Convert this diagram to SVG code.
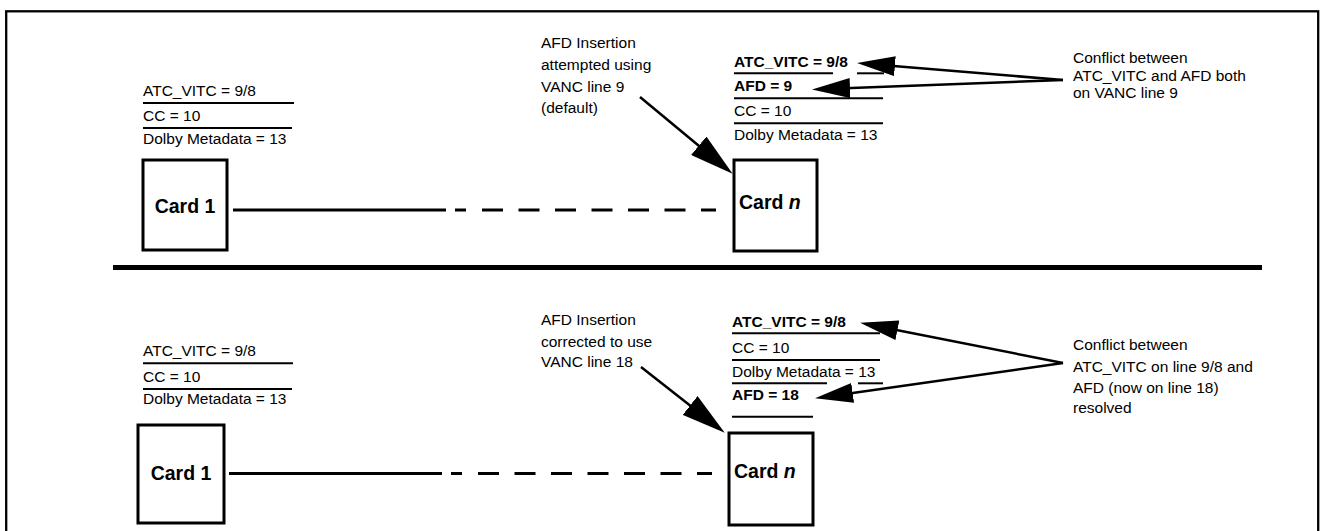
<svg xmlns="http://www.w3.org/2000/svg" width="1325" height="531" viewBox="0 0 1325 531">
<defs>
<style>
text{font-family:"Liberation Sans",Arial,sans-serif;font-size:15.5px;fill:#000}
.b{font-weight:bold}
.card{font-weight:bold;font-size:19.5px}
.ul{stroke:#000;stroke-width:2;fill:none}
.box{fill:#fff;stroke:#000;stroke-width:3}
.conn{stroke:#000;stroke-width:3;fill:none}
.arr{stroke:#000;stroke-width:2.5;fill:none;marker-end:url(#ah)}
.arrb{stroke:#000;stroke-width:2.5;fill:none;marker-end:url(#ahb)}
</style>
<marker id="ah" markerUnits="userSpaceOnUse" viewBox="0 0 38 20" refX="32" refY="10" markerWidth="38" markerHeight="20" orient="auto"><path d="M0,0 L38,10 L0,20 Z" fill="#000"/></marker>
<marker id="ahb" markerUnits="userSpaceOnUse" viewBox="0 0 44 24" refX="38" refY="12" markerWidth="44" markerHeight="24" orient="auto"><path d="M0,0 L44,12 L0,24 Z" fill="#000"/></marker>
</defs>
<rect x="6.2" y="11.3" width="1312" height="620" fill="none" stroke="#000" stroke-width="2.3"/>
<line x1="113" y1="267.5" x2="1262" y2="267.5" stroke="#000" stroke-width="5"/>

<g id="connectors">
<line class="conn" x1="233" y1="210" x2="446" y2="210"/>
<line class="conn" x1="455" y1="210" x2="716" y2="210" stroke-dasharray="11 16 21 15.5 21 15.5 21 15.5 21 15.5 21 15.5 21 15.5 21 16 12 100"/>
<line class="conn" x1="229" y1="473.5" x2="442" y2="473.5"/>
<line class="conn" x1="451" y1="473.5" x2="712" y2="473.5" stroke-dasharray="11 16 21 15.5 21 15.5 21 15.5 21 15.5 21 15.5 21 15.5 21 16 12 100"/>
<line class="arrb" x1="640" y1="97" x2="728" y2="170"/>
<line class="arrb" x1="641" y1="367" x2="720" y2="429"/>
<line class="arr" x1="1063" y1="80" x2="863" y2="63.5"/>
<line class="arr" x1="1063" y1="80" x2="818" y2="89.3"/>
<line class="arr" x1="1063" y1="363" x2="866" y2="324"/>
<line class="arr" x1="1063" y1="363" x2="821" y2="397.5"/>
</g>

<g id="top-left-labels">
<text x="143" y="96">ATC_VITC = 9/8</text>
<line class="ul" x1="143" y1="103" x2="294" y2="103"/>
<text x="143" y="121">CC = 10</text>
<line class="ul" x1="143" y1="128" x2="292" y2="128"/>
<text x="143" y="144">Dolby Metadata = 13</text>
</g>

<g id="top-card1">
<rect class="box" x="143" y="160" width="84" height="90"/>
<text class="card" x="185" y="213" text-anchor="middle">Card 1</text>
</g>

<g id="top-cardn">
<rect class="box" x="734" y="160" width="83" height="91"/>
<text class="card" x="739" y="209">Card <tspan font-style="italic">n</tspan></text>
</g>

<g id="top-right-labels">
<text class="b" x="734" y="66.5">ATC_VITC = 9/8</text>
<line class="ul" x1="734" y1="73.3" x2="833" y2="73.3"/>
<line class="ul" x1="857" y1="73.3" x2="884" y2="73.3"/>
<text class="b" x="734" y="90.5">AFD = 9</text>
<line class="ul" x1="734" y1="98.3" x2="883" y2="98.3"/>
<text x="734" y="116">CC = 10</text>
<line class="ul" x1="734" y1="123.3" x2="883" y2="123.3"/>
<text x="734" y="139.5">Dolby Metadata = 13</text>
</g>

<g id="top-note">
<text x="541" y="48">AFD Insertion</text>
<text x="541" y="70">attempted using</text>
<text x="541" y="92">VANC line 9</text>
<text x="541" y="113">(default)</text>
</g>

<g id="top-conflict">
<text x="1073" y="63">Conflict between</text>
<text x="1073" y="81">ATC_VITC and AFD both</text>
<text x="1073" y="98">on VANC line 9</text>
</g>

<g id="bottom-left-labels">
<text x="143" y="356">ATC_VITC = 9/8</text>
<line class="ul" x1="143" y1="363.3" x2="293" y2="363.3"/>
<text x="143" y="382">CC = 10</text>
<line class="ul" x1="143" y1="389" x2="292" y2="389"/>
<text x="143" y="404">Dolby Metadata = 13</text>
</g>

<g id="bottom-card1">
<rect class="box" x="138" y="425" width="86" height="98"/>
<text class="card" x="181" y="480" text-anchor="middle">Card 1</text>
</g>

<g id="bottom-cardn">
<rect class="box" x="729" y="433" width="84" height="92"/>
<text class="card" x="734" y="478">Card <tspan font-style="italic">n</tspan></text>
</g>

<g id="bottom-right-labels">
<text class="b" x="732" y="326.7">ATC_VITC = 9/8</text>
<line class="ul" x1="732" y1="333.3" x2="880" y2="333.3"/>
<text x="732" y="353">CC = 10</text>
<line class="ul" x1="732" y1="360" x2="880" y2="360"/>
<text x="732" y="377">Dolby Metadata = 13</text>
<line class="ul" x1="732" y1="383.3" x2="827" y2="383.3"/>
<line class="ul" x1="858" y1="383.3" x2="883" y2="383.3"/>
<text class="b" x="732" y="400">AFD = 18</text>
<line class="ul" x1="732" y1="416.7" x2="813" y2="416.7"/>
</g>

<g id="bottom-note">
<text x="541" y="325">AFD Insertion</text>
<text x="541" y="346.5">corrected to use</text>
<text x="541" y="367">VANC line 18</text>
</g>

<g id="bottom-conflict">
<text x="1073" y="350">Conflict between</text>
<text x="1073" y="372">ATC_VITC on line 9/8 and</text>
<text x="1073" y="393">AFD (now on line 18)</text>
<text x="1073" y="413">resolved</text>
</g>
</svg>
